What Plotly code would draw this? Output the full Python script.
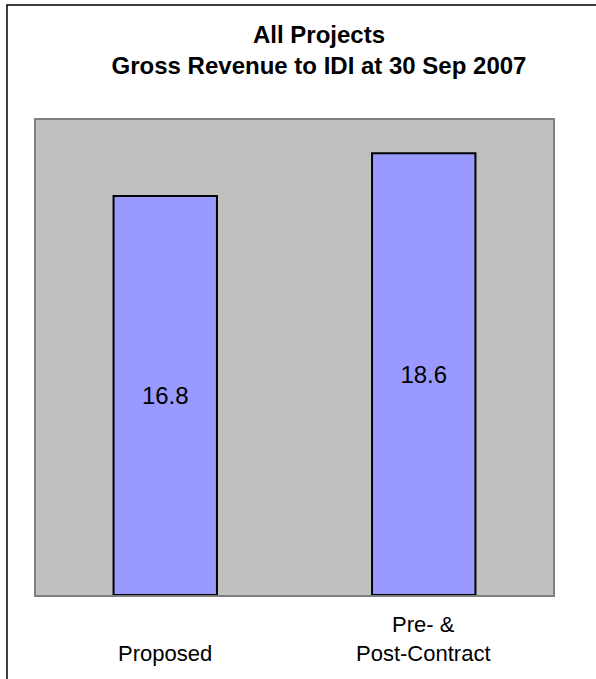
import plotly.graph_objects as go

# Chart data
categories = ["Proposed", "Pre- &<br>Post-Contract"]
revenue = [16.8, 18.6]
value_labels = ["16.8", "18.6"]
title_lines = ["All Projects", "Gross Revenue to IDI at 30 Sep 2007"]

W, H = 596, 679
ML, MR, MT, MB = 36, 43, 120, 84
PW = W - ML - MR
PH = H - MT - MB

FONT = "Liberation Sans, Arial, sans-serif"

fig = go.Figure()
fig.add_trace(go.Bar(
    x=categories,
    y=revenue,
    text=value_labels,
    textposition="inside",
    insidetextanchor="middle",
    textangle=0,
    textfont=dict(family=FONT, size=24, color="black"),
    marker=dict(color="#9999FF", line=dict(color="black", width=2)),
    hoverinfo="skip",
))

# Category labels under the plot, bottom-aligned so single and two-line
# labels share the same last line
annotations = []
for cat in categories:
    annotations.append(dict(
        x=cat, xref="x",
        y=-(668 - (MT + PH)) / PH, yref="paper",
        yanchor="bottom", xanchor="center",
        text=cat, showarrow=False, align="center",
        font=dict(family=FONT, size=22, color="black"),
    ))

# Outer frame of the chart (runs off the right and bottom of the page)
shapes = [dict(
    type="rect", xref="paper", yref="paper",
    x0=(7 - ML) / PW, x1=(W + 30 - ML) / PW,
    y0=-(H + 30 - MT - PH) / PH, y1=(MT + PH - 5) / PH,
    line=dict(color="black", width=1.5),
    fillcolor="rgba(0,0,0,0)",
    layer="below",
)]

fig.update_layout(
    width=W, height=H,
    margin=dict(l=ML, r=MR, t=MT, b=MB, pad=0),
    paper_bgcolor="white",
    plot_bgcolor="#C0C0C0",
    showlegend=False,
    bargap=0.6,
    title=dict(
        text="<b>" + "<br>".join(title_lines) + "</b>",
        x=319 / W, xanchor="center", xref="container",
        y=1 - 43 / H, yanchor="top", yref="container",
        font=dict(family=FONT, size=24, color="black"),
    ),
    xaxis=dict(
        showticklabels=False, ticks="", showgrid=False, zeroline=False,
        showline=True, linecolor="#808080", linewidth=2, mirror=True,
    ),
    yaxis=dict(
        range=[0, 20], showticklabels=False, ticks="", showgrid=False,
        zeroline=False,
        showline=True, linecolor="#808080", linewidth=2, mirror=True,
    ),
    annotations=annotations,
    shapes=shapes,
)

fig.write_html("out.html")
